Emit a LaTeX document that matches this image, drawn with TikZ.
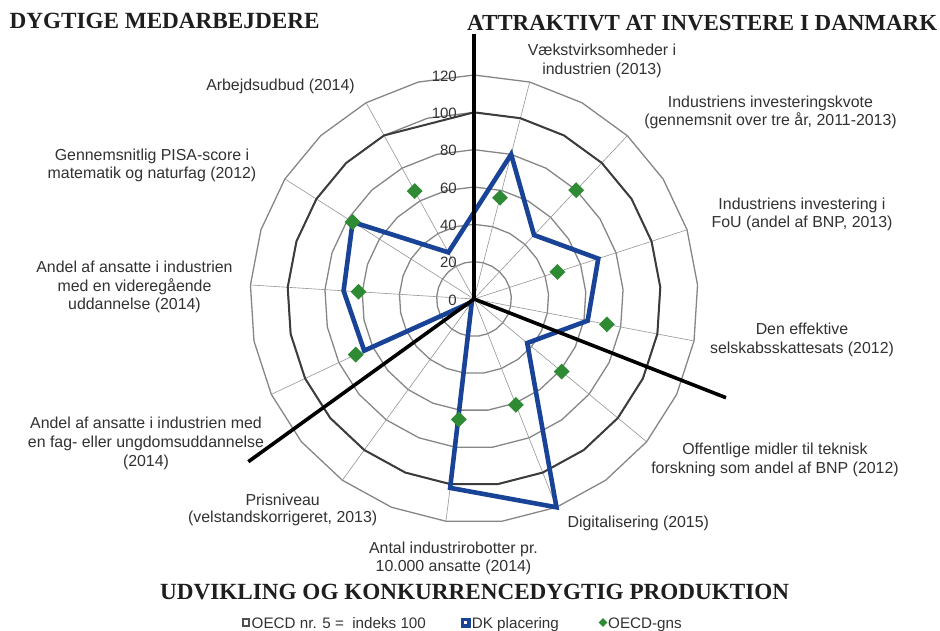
\documentclass[tikz,border=0pt]{standalone}
\usepackage{fontspec}
\usepackage{graphicx}
\setmainfont{Liberation Sans}
\newfontfamily\titlefont{Liberation Serif}
\usetikzlibrary{shapes.geometric}
\definecolor{ringgray}{RGB}{134,134,134}
\definecolor{spokegray}{RGB}{150,150,150}
\definecolor{oecddark}{RGB}{60,60,60}
\definecolor{dkblue}{RGB}{25,67,150}
\definecolor{gnsgreen}{RGB}{47,138,52}
\definecolor{labeltext}{RGB}{50,50,50}
\definecolor{titletext}{RGB}{30,30,30}
\begin{document}
\begin{tikzpicture}[x=1pt,y=-1pt,
  lbl/.style={anchor=base, inner sep=0, text=labeltext, font=\fontsize{15.9}{18.6}\selectfont},
  num/.style={anchor=east, inner sep=0, text=labeltext, font=\fontsize{15}{18}\selectfont},
  legtext/.style={anchor=base west, inner sep=0, text=labeltext, font=\fontsize{15.2}{18}\selectfont},
  ttl/.style={anchor=base west, inner sep=0, text=titletext},
  ring/.style={draw=ringgray, line width=1.3pt, line join=miter},
  spoke/.style={draw=spokegray, line width=0.6pt},
  oecd/.style={draw=oecddark, line width=2pt, line join=miter},
  dkline/.style={draw=dkblue, line width=4.6pt, line join=miter},
  blk/.style={draw=black, line width=3.6pt},
  gns/.style={diamond, fill=gnsgreen, draw=none, inner sep=0, minimum width=16pt, minimum height=16pt}]
\useasboundingbox (0,0) rectangle (940,630);
\fill[white] (0,0) rectangle (940,630);
\def\cx{474}\def\cy{299}\def\ru{1.8667}
\coordinate (C) at (\cx,\cy);
% rings
\foreach \v in {20,40,60,80,100,120}{
  \draw[ring] (\cx,{\cy-\ru*\v}) \foreach \k in {1,...,24}{ -- ({\cx+\ru*\v*sin(\k*14.4)},{\cy-\ru*\v*cos(\k*14.4)})} -- cycle;
}
% spokes
\foreach \k in {1,3,...,23}{
  \coordinate (s\k) at ({\cx+224*sin(\k*14.4)},{\cy-224*cos(\k*14.4)});
  \draw[spoke] (C) -- (s\k);
}
% OECD nr. 5 = 100
\foreach \k in {0,...,23}{
  \coordinate (o\k) at ({\cx+\ru*100*sin(\k*14.4)},{\cy-\ru*100*cos(\k*14.4)});
}
\draw[oecd] (o0) \foreach \k in {1,...,23}{ -- (o\k)} -- cycle;
% DK placering
\foreach \k/\v in {1/80,3/47,5/70,7/62,9/37,11/120,13/102,15/2,17/65,19/70,21/77,23/28.5}{
  \coordinate (dk\k) at ({\cx+\ru*\v*sin(\k*14.4)},{\cy-\ru*\v*cos(\k*14.4)});
}
\draw[dkline] (dk1) \foreach \k in {3,5,...,23}{ -- (dk\k)} -- cycle;
% OECD-gns
\foreach \k/\v in {1/56,3/80,5/47,7/72.5,9/61,11/61,13/65,17/70,19/62,21/77,23/66}{
  \node[gns] (g\k) at ({\cx+\ru*\v*sin(\k*14.4)},{\cy-\ru*\v*cos(\k*14.4)}) {};
}
% black separator lines
\coordinate (bt) at (474,34);
\coordinate (br) at (726,397.7);
\coordinate (bl) at (248.3,461.7);
\draw[blk] (C) -- (bt);
\draw[blk] (C) -- (br);
\draw[blk] (C) -- (bl);
% axis numbers
\foreach \v in {0,20,...,120}{
  \node[num] (n\v) at (457,{\cy-\ru*\v+1}) {\v};
}
% category labels
\node[lbl] (a1) at (602,55.5) {Vækstvirksomheder i};
\node[lbl] (a2) at (602,74.8) {industrien (2013)};
\node[lbl] (b1) at (770.5,107.2) {Industriens investeringskvote};
\node[lbl] (b2) at (770.5,125.5) {(gennemsnit over tre år, 2011-2013)};
\node[lbl] (c1) at (802,209.5) {Industriens investering i};
\node[lbl] (c2) at (802,227.2) {FoU (andel af BNP, 2013)};
\node[lbl] (d1) at (802,334.8) {Den effektive};
\node[lbl] (d2) at (802,353.8) {selskabsskattesats (2012)};
\node[lbl] (e1) at (775,454.8) {Offentlige midler til teknisk};
\node[lbl] (e2) at (775,473.8) {forskning som andel af BNP (2012)};
\node[lbl] (f1) at (638.3,527.2) {Digitalisering (2015)};
\node[lbl] (h1) at (453.5,553.5) {Antal industrirobotter pr.};
\node[lbl] (h2) at (453.5,571) {10.000 ansatte (2014)};
\node[lbl] (i1) at (282.7,505.5) {Prisniveau};
\node[lbl] (i2) at (282.7,522.8) {(velstandskorrigeret, 2013)};
\node[lbl] (j1) at (146,428.8) {Andel af ansatte i industrien med};
\node[lbl] (j2) at (146,447.2) {en fag- eller ungdomsuddannelse};
\node[lbl] (j3) at (146,466.2) {(2014)};
\node[lbl] (k1) at (134.5,272.2) {Andel af ansatte i industrien};
\node[lbl] (k2) at (134.5,291.2) {med en videregående};
\node[lbl] (k3) at (134.5,309.5) {uddannelse (2014)};
\node[lbl] (l1) at (152,160.5) {Gennemsnitlig PISA-score i};
\node[lbl] (l2) at (152,178.8) {matematik og naturfag (2012)};
\node[lbl] (m1) at (280.5,90.5) {Arbejdsudbud (2014)};
% titles
\node[ttl] (t1) at (9.3,28.3) {\resizebox{310pt}{!}{\fontsize{22.8}{26}\titlefont\bfseries DYGTIGE MEDARBEJDERE}};
\node[ttl] (t2) at (467,30.7) {\resizebox{470pt}{!}{\fontsize{22.8}{26}\titlefont\bfseries ATTRAKTIVT AT INVESTERE I DANMARK}};
\node[ttl] (t3) at (160,599.3) {\resizebox{629pt}{!}{\fontsize{22.8}{26}\titlefont\bfseries UDVIKLING OG KONKURRENCEDYGTIG PRODUKTION}};
% legend
\node[draw=oecddark!90, line width=2pt, fill=white, minimum size=6.5pt, inner sep=0] (lg1) at (246,622.5) {};
\node[legtext] (lt1) at (251.5,628) {OECD nr. 5 = \ indeks 100};
\node[fill=dkblue, draw=none, minimum size=10pt, inner sep=0] (lg2) at (465.7,622.5) {};
\node[fill=white, draw=none, minimum size=3.2pt, inner sep=0] (lg2w) at (lg2) {};
\node[legtext] (lt2) at (471.7,628) {DK placering};
\node[gns, minimum width=9pt, minimum height=9pt] (lg3) at (603,622.5) {};
\node[legtext] (lt3) at (608,628) {OECD-gns};
\end{tikzpicture}
\end{document}
